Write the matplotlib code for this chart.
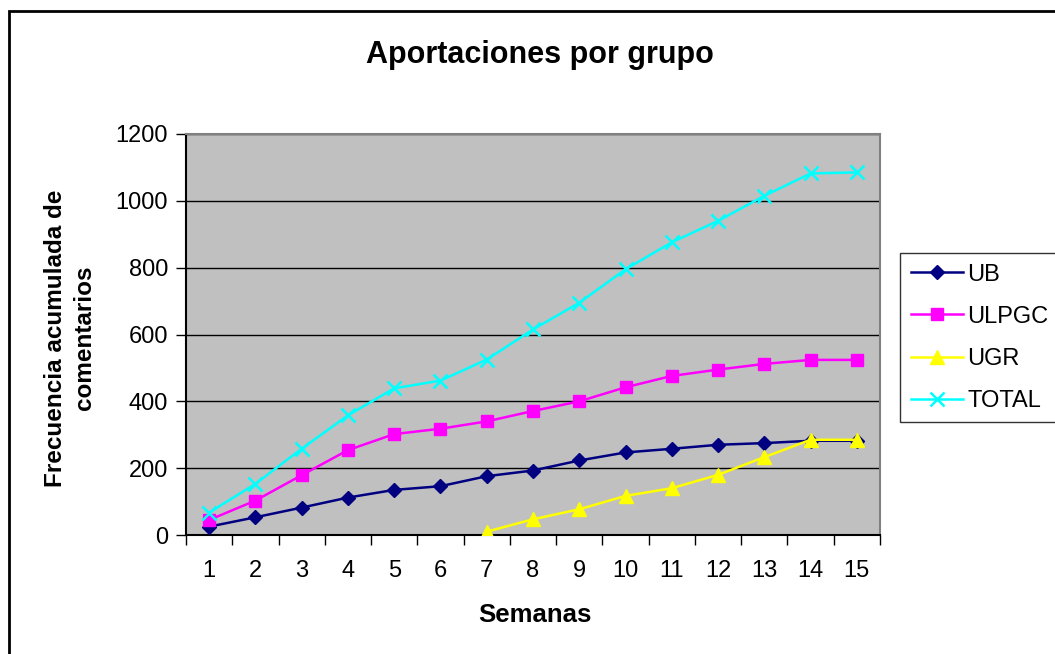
import matplotlib
matplotlib.use("Agg")
import matplotlib.pyplot as plt
from matplotlib.patches import Rectangle

plt.rcParams['font.family'] = ['Liberation Sans', 'DejaVu Sans']

weeks = list(range(1, 16))
ub = [25, 53, 82, 112, 135, 146, 176, 193, 223, 247, 258, 270, 275, 282, 282]
ulpgc = [45, 103, 179, 254, 302, 318, 340, 371, 400, 442, 476, 495, 512, 524, 524]
ugr_weeks = list(range(7, 16))
ugr = [10, 47, 77, 117, 140, 180, 233, 285, 285]
total = [67, 153, 258, 358, 439, 462, 525, 615, 695, 795, 876, 940, 1015, 1082, 1085]
yticks = [0, 200, 400, 600, 800, 1000, 1200]

W, H = 1055, 654
fig = plt.figure(figsize=(W / 100, H / 100), dpi=100)
fig.patch.set_facecolor('white')

# outer frame (right/bottom edges lie outside the image)
fig.patches.append(Rectangle((9 / W, -0.05), 1.2, 1 - 11 / H + 0.05, transform=fig.transFigure,
                             fill=False, edgecolor='black', linewidth=2))

ax = fig.add_axes([186 / W, 1 - 535 / H, (880 - 186) / W, (535 - 134) / H])
ax.set_facecolor('#c0c0c0')

ax.plot(weeks, ub, color='#000080', marker='D', markersize=7.5, linewidth=1.8, label='UB', zorder=3)
ax.plot(weeks, ulpgc, color='#ff00ff', marker='s', markersize=8, linewidth=1.8, label='ULPGC', zorder=3)
ax.plot(ugr_weeks, ugr, color='#ffff00', marker='^', markersize=9.5, linewidth=1.8, label='UGR', zorder=3)
ax.plot(weeks, total, color='#00ffff', marker='x', markersize=10, markeredgewidth=1.8,
        linewidth=1.8, label='TOTAL', zorder=3)

ax.set_xlim(0.5, 15.5)
ax.set_ylim(0, 1200)
ax.set_yticks(yticks)
ax.yaxis.grid(True, color='black', linewidth=1)
ax.set_axisbelow(True)
ax.set_xticks([i + 0.5 for i in range(0, 16)])
ax.set_xticklabels([])
ax.set_xticks(weeks, minor=True)
ax.set_xticklabels([str(w) for w in weeks], minor=True)
ax.tick_params(axis='x', which='minor', length=0, pad=18, labelsize=17)
ax.tick_params(axis='x', which='major', length=7, direction='out', width=1, color='black')
ax.tick_params(axis='y', length=7, direction='out', width=1, labelsize=17, pad=6)

for s in ['top', 'right']:
    ax.spines[s].set_color('#808080')
    ax.spines[s].set_linewidth(1.5)
for s in ['left', 'bottom']:
    ax.spines[s].set_color('black')
    ax.spines[s].set_linewidth(1.5)

fig.text(540 / W, 1 - 55 / H, 'Aportaciones por grupo', ha='center', va='center',
         fontsize=22, fontweight='bold')
fig.text(535 / W, 1 - 615 / H, 'Semanas', ha='center', va='center',
         fontsize=18.5, fontweight='bold')
fig.text(70 / W, 1 - 338 / H, 'Frecuencia acumulada de\ncomentarios', ha='center', va='center',
         rotation=90, fontsize=17.5, fontweight='bold', linespacing=1.35)

leg = fig.legend(loc='upper left', bbox_to_anchor=(900 / W, 1 - 253 / H), fontsize=17,
                 frameon=True, fancybox=False, edgecolor='black', handlelength=2.2,
                 borderpad=0.45, labelspacing=0.85, handletextpad=0.2, borderaxespad=0)
leg.get_frame().set_linewidth(1)

fig.savefig('out.png', dpi=100, facecolor='white')
